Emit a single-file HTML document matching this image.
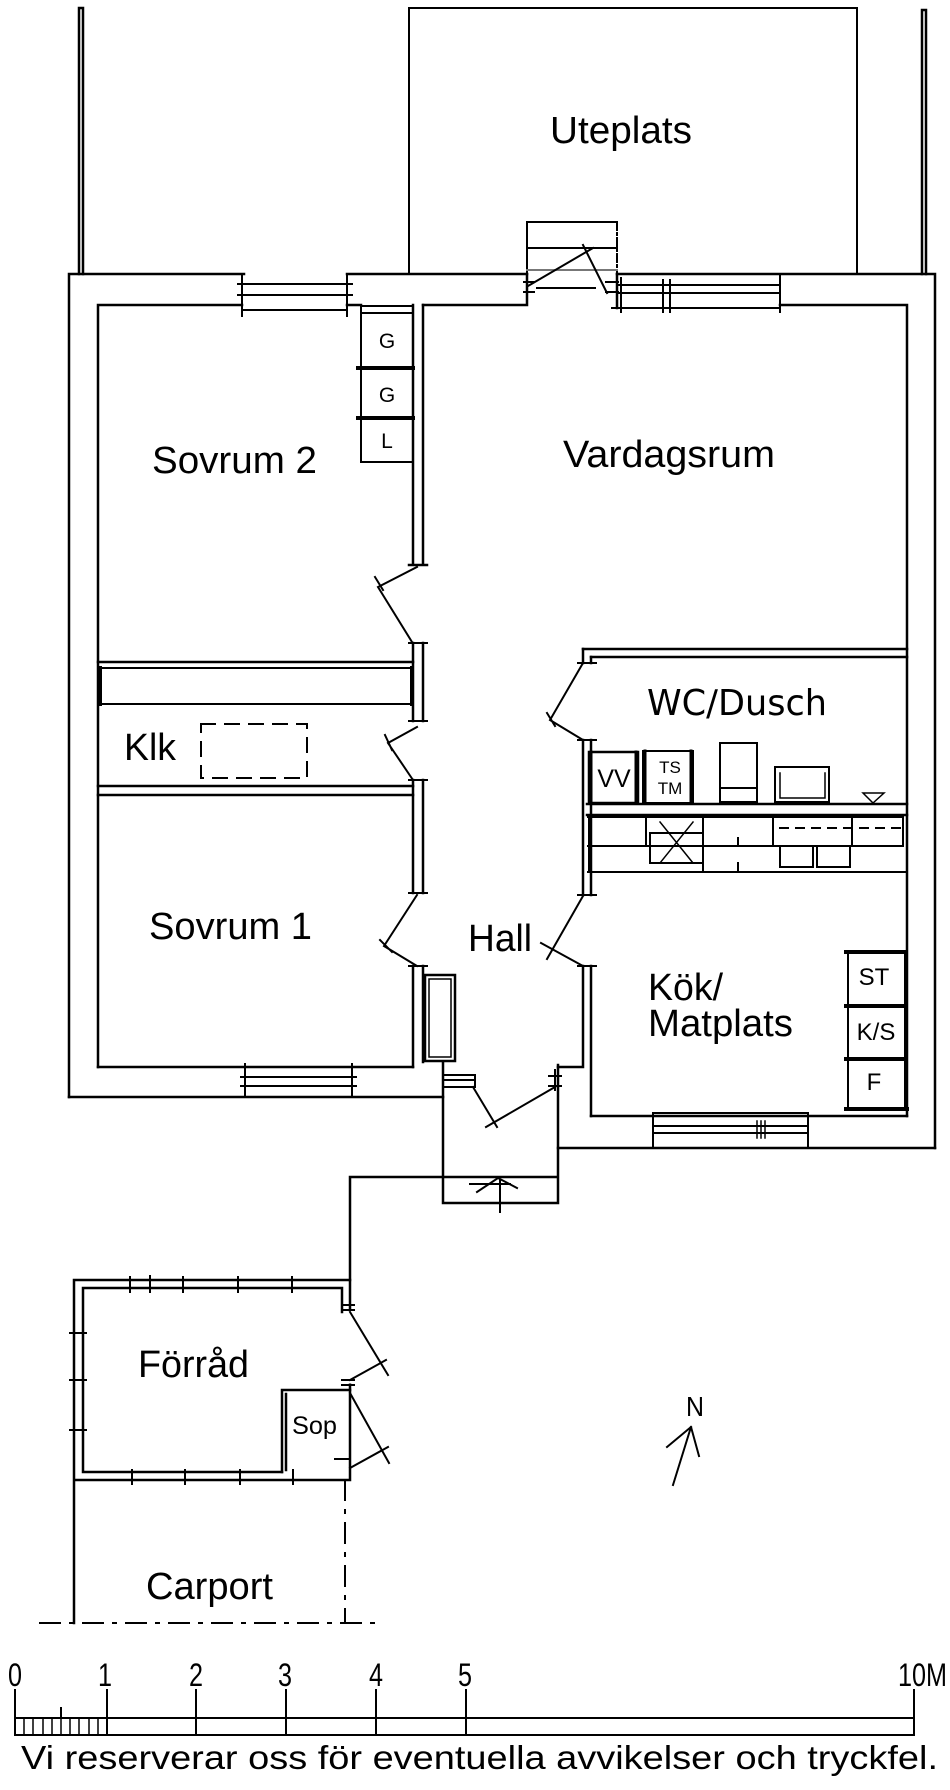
<!DOCTYPE html>
<html><head><meta charset="utf-8"><style>
html,body{margin:0;padding:0;background:#fff;}
svg{display:block;}
text{font-family:"Liberation Sans",Arial,sans-serif;fill:#000;}
</style></head><body>
<svg width="950" height="1790" viewBox="0 0 950 1790" xmlns="http://www.w3.org/2000/svg">
<rect width="950" height="1790" fill="#fff"/>
<g stroke="#000" stroke-width="2.5" fill="none" stroke-linecap="square">
<!-- fences -->
<path d="M79 274V8H83V274"/>
<path d="M922 274V10H926V274"/>
<!-- Uteplats -->
<path d="M409 274V8H857V274" stroke-width="2"/>
<!-- top outer wall -->
<path d="M69 1097V274H244M347 274H527M617 274H935V1148"/>
<!-- top inner wall -->
<path d="M98 1067V305H242M347 305H361M423 305H527V274M617 274V308M780 305H907V1116"/>
<!-- Sovrum2 window -->
<path d="M244 284H347M244 295H347M244 310H347" stroke-width="2"/>
<path d="M242 274V316M347 274V316M238 284H250M238 295H250M341 284H352M341 295H352" stroke-width="2"/>
<!-- Uteplats step box -->
<path d="M527 222H617M527 248H617M527 222V274" stroke-width="2"/>
<path d="M617 222V274" stroke-width="2" stroke-dasharray="8 3 2 3"/>
<path d="M527 270H617" stroke="#777" stroke-width="2"/>
<!-- Uteplats door -->
<path d="M528 286L593 248M583 245L607 293M537 288H595" stroke-width="2"/>
<path d="M524 282H534M524 292H534M606 282H618M606 292H618" stroke-width="2"/>
<!-- right top window -->
<path d="M617 285H780M617 293H780M620 308H780" stroke-width="2"/>
<path d="M621 278V312M663 280V312M670 280V312M780 274V312M612 308H625" stroke-width="2"/>
<!-- closet G G L -->
<path d="M361 306H413M361 313H413M361 306V462H413" stroke-width="2"/>
<path d="M358 368H413M358 418H413" stroke-width="4"/>
<!-- partition Sovrum2 / Vardagsrum -->
<path d="M413 305V565M423 305V565M409 565H427" stroke-width="2.5"/>
<path d="M413 643V721M423 643V721M413 780V893M423 780V893M413 966V1067M423 966V1062"/>
<path d="M409 643H427M409 721H427M409 780H427M409 893H427M409 966H427" stroke-width="2"/>
<!-- Sovrum2 bottom / Klk -->
<path d="M98 662H413M98 786H413M98 795H413"/>
<path d="M99 668H412M99 704H412" stroke-width="2"/>
<path d="M100 668V704M412 668V704" stroke-width="4"/>
<rect x="201" y="724" width="106" height="54" stroke-width="2" stroke-dasharray="14 10"/>
<!-- Sovrum1 bottom -->
<path d="M98 1067H413"/>
<path d="M69 1097H443"/>
<path d="M245 1077H352M245 1086H352" stroke-width="2"/>
<path d="M245 1064V1097M352 1064V1097M241 1077H249M241 1086H249M348 1077H356M348 1086H356" stroke-width="2"/>
<!-- coat rack -->
<rect x="425" y="975" width="30" height="86" stroke-width="2.5"/>
<rect x="429" y="979" width="22" height="78" stroke-width="1.5"/>
<!-- doors left side -->
<path d="M417 567L378 587L412 642M375 577L383 590" stroke-width="2"/>
<path d="M417 727L388 743L413 780M385 735L392 750" stroke-width="2"/>
<path d="M417 895L384 946L417 966M380 940L392 952" stroke-width="2"/>
<!-- hall right wall -->
<path d="M583 649V663M591 657V663M583 740V895M591 740V895M583 966V1067H558M591 966V1116"/>
<path d="M578 663H596M578 740H596M578 895H596M578 966H596" stroke-width="2"/>
<!-- WC door / kitchen door -->
<path d="M583 663L550 720L583 740M547 713L555 726" stroke-width="2"/>
<path d="M583 896L547 959M541 943L583 966" stroke-width="2"/>
<!-- WC top wall -->
<path d="M583 649H907M591 657H907"/>
<!-- WC fixtures -->
<path d="M587 804H907M587 815H907" stroke-width="2.5"/>
<rect x="589" y="752" width="49" height="51" stroke-width="2.5"/>
<path d="M591 752V803M636 752V803" stroke-width="3"/>
<rect x="643" y="751" width="50" height="52" stroke-width="2"/>
<path d="M645 751V803M691 751V803" stroke-width="3"/>
<rect x="720" y="743" width="37" height="59" stroke-width="2"/>
<path d="M720 788H757" stroke-width="2"/>
<rect x="775" y="767" width="54" height="35" stroke-width="2"/>
<path d="M780 773V798H825V773M780 790V798" stroke-width="1.5"/>
<path d="M863 793H884L873 803Z" stroke-width="1.5"/>
<!-- utility cabinets -->
<path d="M588 817H903M588 846H903M588 872H907" stroke-width="2"/>
<path d="M589 815V872M646 815V846M703 815V872M773 815V846M852 815V846M903 815V846" stroke-width="2"/>
<rect x="650" y="833" width="53" height="30" stroke-width="2"/>
<path d="M660 822L693 863M693 822L660 863" stroke-width="1.5"/>
<path d="M780 828H900" stroke-width="2" stroke-dasharray="8 8"/>
<rect x="780" y="846" width="33" height="21" stroke-width="2"/>
<rect x="817" y="846" width="33" height="21" stroke-width="2"/>
<path d="M738 838V846M738 863V870" stroke-width="2"/>
<!-- kitchen -->
<path d="M591 1116H907"/>
<path d="M558 1148H935"/>
<path d="M653 1113H808M653 1126H808M653 1133H808M653 1113V1148M808 1113V1148" stroke-width="2"/>
<path d="M757 1121V1138M761 1121V1138M765 1121V1138" stroke-width="1.5"/>
<rect x="848" y="952" width="57" height="157" stroke-width="2"/>
<path d="M846 952H905M846 1006H905M846 1059H905M846 1109H907" stroke-width="4"/>
<!-- vestibule -->
<path d="M443 1062V1203H558V1065M443 1177H558M350 1280V1177H443"/>
<rect x="443" y="1075" width="32" height="12" stroke-width="2"/>
<path d="M443 1080H475M555 1070V1090M549 1076H561M549 1086H561" stroke-width="2"/>
<path d="M473 1087L497 1127M486 1127L555 1087" stroke-width="2"/>
<path d="M477 1192L498 1178L517 1188M470 1184H510M500 1180V1212" stroke-width="2"/>
<!-- Förråd -->
<path d="M74 1280H350V1312M83 1288H342V1312M74 1280V1623M83 1288V1472H282M74 1480H350V1382M350 1382V1312" stroke-width="2.5"/>
<path d="M350 1312V1382" stroke="#fff" stroke-width="3"/>
<path d="M282 1472V1390H350M286 1470V1394" stroke-width="2.5"/>
<path d="M342 1305H354M342 1310H354M342 1380H354M342 1385H354" stroke-width="2"/>
<path d="M130 1277V1292M150 1276V1292M183 1277V1292M238 1277V1292M292 1277V1292M132 1470V1484M185 1470V1484M240 1470V1484M293 1470V1484M70 1333H86M70 1380H86M70 1430H86" stroke-width="2"/>
<path d="M350 1312L388 1375M350 1380L386 1360" stroke-width="2"/>
<path d="M350 1393L389 1463M350 1468L388 1447M335 1459H350" stroke-width="2"/>
<!-- Carport -->
<path d="M345 1480V1623" stroke-width="2" stroke-dasharray="20 10 3 10"/>
<path d="M40 1623H382" stroke-width="2" stroke-dasharray="20 10 3 10"/>
<!-- N arrow -->
<path d="M691 1427L673 1485M691 1427L667 1447M691 1427L699 1456" stroke-width="2"/>
<!-- scale bar -->
<rect x="15" y="1718" width="899" height="17" stroke-width="2"/>
<path d="M15 1690V1735M107 1690V1735M196 1690V1735M286 1690V1735M376 1690V1735M466 1690V1735M914 1690V1735M61 1708V1718" stroke-width="2"/>
<path d="M24 1718V1735M33 1718V1735M43 1718V1735M52 1718V1735M61 1718V1735M70 1718V1735M79 1718V1735M89 1718V1735M98 1718V1735" stroke-width="1.5"/>
</g>
<!-- labels -->
<text x="550" y="143" font-size="38" textLength="142" lengthAdjust="spacingAndGlyphs">Uteplats</text>
<text x="152" y="473" font-size="38" textLength="165" lengthAdjust="spacingAndGlyphs">Sovrum 2</text>
<text x="563" y="467" font-size="38" textLength="212" lengthAdjust="spacingAndGlyphs">Vardagsrum</text>
<text x="124" y="760" font-size="38" textLength="52" lengthAdjust="spacingAndGlyphs">Klk</text>
<text x="149" y="939" font-size="38" textLength="163" lengthAdjust="spacingAndGlyphs">Sovrum 1</text>
<text x="468" y="951" font-size="38" textLength="64" lengthAdjust="spacingAndGlyphs">Hall</text>
<text x="647" y="715" font-size="36" style="font-family:'DejaVu Sans','Liberation Sans',sans-serif" textLength="180" lengthAdjust="spacingAndGlyphs">WC/Dusch</text>
<text x="648" y="1000" font-size="38" textLength="75" lengthAdjust="spacingAndGlyphs">Kök/</text>
<text x="648" y="1036" font-size="38" textLength="145" lengthAdjust="spacingAndGlyphs">Matplats</text>
<text x="138" y="1377" font-size="38" textLength="111" lengthAdjust="spacingAndGlyphs">Förråd</text>
<text x="292" y="1434" font-size="25" textLength="45" lengthAdjust="spacingAndGlyphs">Sop</text>
<text x="146" y="1599" font-size="38" textLength="127" lengthAdjust="spacingAndGlyphs">Carport</text>
<text x="387" y="348" font-size="21" text-anchor="middle">G</text>
<text x="387" y="402" font-size="21" text-anchor="middle">G</text>
<text x="387" y="448" font-size="21" text-anchor="middle">L</text>
<text x="614" y="787" font-size="25" text-anchor="middle">VV</text>
<text x="670" y="773" font-size="17" text-anchor="middle">TS</text>
<text x="670" y="794" font-size="17" text-anchor="middle">TM</text>
<text x="874" y="985" font-size="24" text-anchor="middle">ST</text>
<text x="876" y="1040" font-size="24" text-anchor="middle">K/S</text>
<text x="874" y="1090" font-size="24" text-anchor="middle">F</text>
<text x="686" y="1416" font-size="28" textLength="18" lengthAdjust="spacingAndGlyphs">N</text>
<g font-size="32">
<text x="8" y="1686" textLength="14" lengthAdjust="spacingAndGlyphs">0</text>
<text x="98" y="1686" textLength="14" lengthAdjust="spacingAndGlyphs">1</text>
<text x="189" y="1686" textLength="14" lengthAdjust="spacingAndGlyphs">2</text>
<text x="278" y="1686" textLength="14" lengthAdjust="spacingAndGlyphs">3</text>
<text x="369" y="1686" textLength="14" lengthAdjust="spacingAndGlyphs">4</text>
<text x="458" y="1686" textLength="14" lengthAdjust="spacingAndGlyphs">5</text>
<text x="898" y="1686" textLength="49" lengthAdjust="spacingAndGlyphs">10M</text>
</g>
<text x="21" y="1769" font-size="33" textLength="917" lengthAdjust="spacingAndGlyphs">Vi reserverar oss för eventuella avvikelser och tryckfel.</text>
</svg>
</body></html>
